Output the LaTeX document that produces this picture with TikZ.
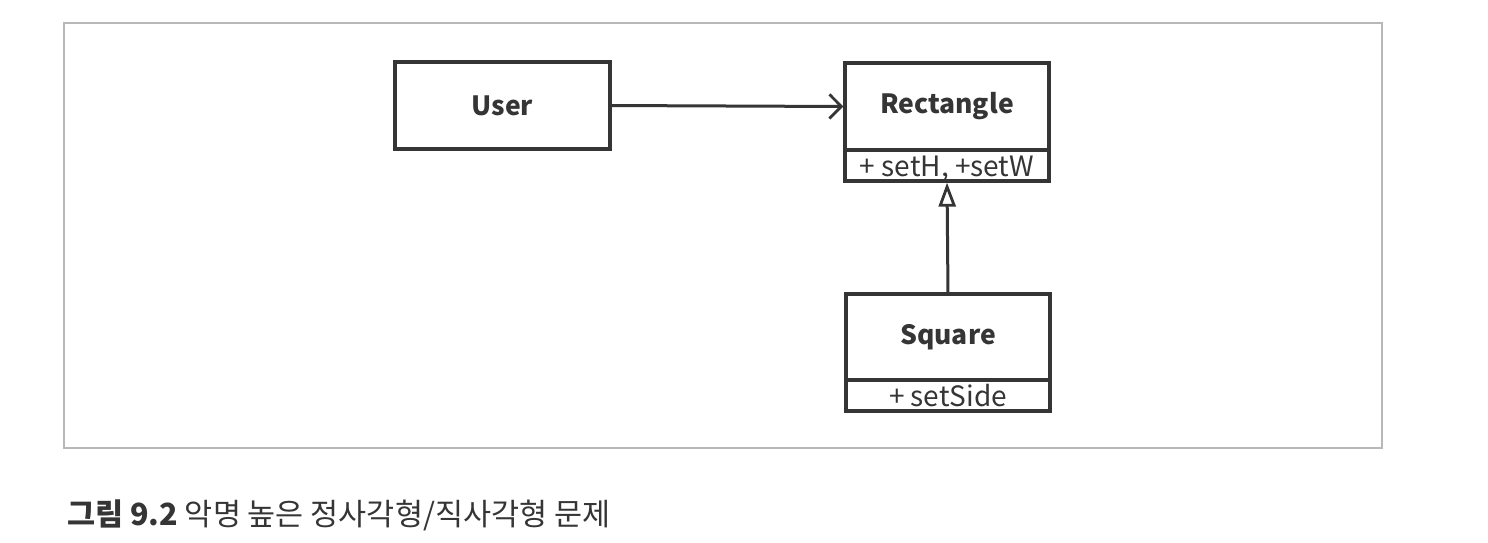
\documentclass[tikz,border=0pt]{standalone}
\usepackage{fontspec}
\setmainfont{Noto Sans CJK KR}
\usetikzlibrary{arrows.meta}
\definecolor{ink}{HTML}{353535}
\definecolor{framec}{HTML}{B8B8B8}
\tikzset{
  classbox/.style={draw=ink, line width=3.2pt, rectangle, inner sep=0pt, outer sep=0pt, text=ink, font=\fontsize{26.5}{30}\selectfont\bfseries},
  opsbox/.style={draw=ink, line width=3.2pt, rectangle, inner sep=0pt, outer sep=0pt, text=ink, font=\fontsize{28}{30}\selectfont},
  assoc/.style={draw=ink, line width=3pt, shorten >=1.6pt, shorten <=1.6pt, -{Straight Barb[length=12pt, width=24pt, line width=2.8pt]}},
  inherit/.style={draw=ink, line width=3pt, shorten >=1.6pt, shorten <=1.6pt, -{Triangle[open, length=24pt, width=17pt, line width=2.8pt]}},
  caption/.style={anchor=base west, inner sep=0pt, text=ink, font=\fontsize{30.5}{34}\selectfont}
}
\newcommand{\opstext}[1]{\raisebox{-10.5pt}[0pt][0pt]{#1}}
\begin{document}
\begin{tikzpicture}[x=1pt, y=-1pt]
  \fill[white] (0,0) rectangle (1488,542);
  \useasboundingbox (0,0) rectangle (1488,542);
  \draw[framec, line width=1.5pt] (64,23) rectangle (1382,448);
  \node[classbox, minimum width=215pt, minimum height=87pt] (user) at (502.5,105.5) {User};
  \node[classbox, minimum width=204pt, minimum height=87pt] (rectname) at (947,106.5) {Rectangle};
  \node[opsbox, minimum width=204pt, minimum height=31pt, anchor=north] (rectops) at (rectname.south) {\opstext{+ setH, +setW}};
  \node[classbox, minimum width=204pt, minimum height=86pt] (sqname) at (948,337) {Square};
  \node[opsbox, minimum width=204pt, minimum height=31pt, anchor=north] (sqops) at (sqname.south) {\opstext{+ setSide}};
  \draw[assoc] (user.east) -- (rectname.west);
  \draw[inherit] (sqname.north) -- (rectops.south);
  \node[caption] (cap) at (67,525) {\textbf{그림 9.2} 악명 높은 정사각형/직사각형 문제};
\end{tikzpicture}
\end{document}
